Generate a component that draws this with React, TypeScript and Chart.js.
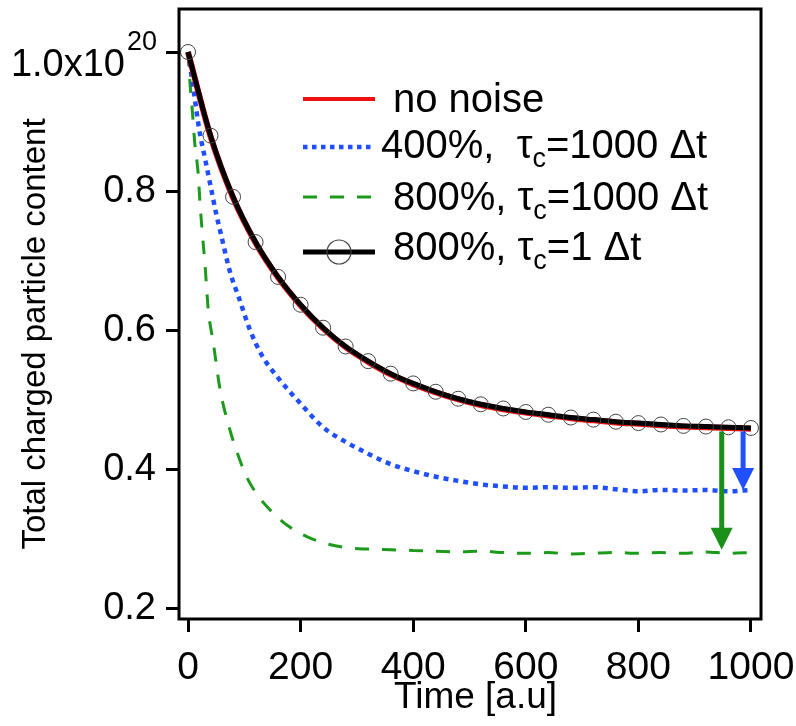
import React, { useEffect, useRef } from "react";
import { Chart, registerables } from "chart.js";

Chart.register(...registerables);

const FONT = '"Liberation Sans", Arial, Helvetica, sans-serif';

// Time samples of the smooth curves (circle markers every 40 a.u.)
const tauTimes = [0, 40, 80, 120, 160, 200, 240, 280, 320, 360, 400, 440, 480, 520, 560, 600, 640, 680, 720, 760, 800, 840, 880, 920, 960, 1000];
// 800%, tau_c = 1 dt (black with circles)
const tau1Values = [1.0, 0.880, 0.792, 0.727, 0.677, 0.637, 0.604, 0.577, 0.556, 0.538, 0.524, 0.512, 0.502, 0.494, 0.488, 0.483, 0.479, 0.475, 0.472, 0.469, 0.467, 0.465, 0.463, 0.462, 0.461, 0.460];
// no noise (red)
const noNoiseValues = [1.0, 0.879, 0.791, 0.726, 0.676, 0.636, 0.603, 0.576, 0.555, 0.537, 0.523, 0.511, 0.501, 0.493, 0.487, 0.482, 0.478, 0.474, 0.471, 0.468, 0.466, 0.464, 0.462, 0.461, 0.460, 0.459];

// 400%, tau_c = 1000 dt (blue dotted)
const blueTimes = [0, 10, 20, 30, 40, 50, 60, 75, 90, 110, 130, 160, 200, 240, 280, 320, 360, 400, 440, 480, 520, 560, 600, 640, 680, 720, 760, 800, 840, 880, 920, 960, 1000];
const blueValues = [1.0, 0.945, 0.888, 0.848, 0.808, 0.768, 0.733, 0.683, 0.648, 0.601, 0.566, 0.532, 0.495, 0.461, 0.440, 0.423, 0.408, 0.398, 0.390, 0.384, 0.379, 0.376, 0.374, 0.375, 0.374, 0.375, 0.372, 0.369, 0.371, 0.370, 0.371, 0.369, 0.371];

// 800%, tau_c = 1000 dt (green dashed)
const greenTimes = [0, 4, 8, 12, 18, 21, 25, 30, 36, 45, 57, 71, 85, 104, 125, 151, 180, 211, 245, 282, 320, 360, 400, 440, 480, 520, 560, 600, 640, 680, 720, 760, 800, 840, 880, 920, 960, 1000];
const greenValues = [1.0, 0.95, 0.912, 0.869, 0.826, 0.787, 0.744, 0.697, 0.630, 0.582, 0.515, 0.467, 0.430, 0.390, 0.362, 0.338, 0.318, 0.304, 0.294, 0.288, 0.286, 0.285, 0.284, 0.283, 0.282, 0.283, 0.281, 0.280, 0.281, 0.279, 0.280, 0.281, 0.280, 0.281, 0.280, 0.282, 0.280, 0.281];

const xTicks = [0, 200, 400, 600, 800, 1000];
const yTicks = [0.2, 0.4, 0.6, 0.8, 1.0];

// Arrows (time, start value, tip value)
const arrowTimes = [948, 986];
const arrowFrom = [0.455, 0.455];
const arrowTo = [0.285, 0.371];
const arrowColors = ["#199119", "#1f4fff"];

// Legend texts
const legendPrefix = ["no noise", "400%,  τ", "800%, τ", "800%, τ"];
const legendSub = ["", "c", "c", "c"];
const legendSuffix = ["", "=1000 Δt", "=1000 Δt", "=1 Δt"];

const RED = "#ee1111";
const BLUE = "#1f4fff";
const GREEN = "#1c9a1c";

const decorPlugin = {
  id: "decor",
  afterDatasetsDraw(chart: any) {
    const ctx = chart.ctx as CanvasRenderingContext2D;
    const { left, top } = chart.chartArea;
    const xs = chart.scales.x;
    const ys = chart.scales.y;
    ctx.save();
    // arrows
    for (let i = 0; i < arrowTimes.length; i++) {
      const x = xs.getPixelForValue(arrowTimes[i]);
      const y0 = ys.getPixelForValue(arrowFrom[i]);
      const y1 = ys.getPixelForValue(arrowTo[i]);
      ctx.strokeStyle = arrowColors[i];
      ctx.fillStyle = arrowColors[i];
      ctx.lineWidth = 5;
      ctx.setLineDash([]);
      ctx.beginPath();
      ctx.moveTo(x, y0);
      ctx.lineTo(x, y1 - 18);
      ctx.stroke();
      ctx.beginPath();
      ctx.moveTo(x - 11, y1 - 22);
      ctx.lineTo(x + 11, y1 - 22);
      ctx.lineTo(x, y1);
      ctx.closePath();
      ctx.fill();
    }
    // legend
    const lineY = [90, 138, 188, 243];
    const baseY = [103, 149, 201, 251];
    const x0 = left + 124;
    const x1 = left + 196;
    const textX = [left + 214, left + 202, left + 214, left + 214];
    const styles = [
      { c: RED, w: 4, d: [] as number[] },
      { c: BLUE, w: 4.5, d: [4.5, 4.5] },
      { c: GREEN, w: 3, d: [14, 13] },
      { c: "#000", w: 5, d: [] as number[] },
    ];
    for (let i = 0; i < 4; i++) {
      const y = top + lineY[i];
      const s = styles[i];
      ctx.strokeStyle = s.c;
      ctx.lineWidth = s.w;
      ctx.setLineDash(s.d);
      ctx.beginPath();
      ctx.moveTo(x0, y);
      ctx.lineTo(x1, y);
      ctx.stroke();
      ctx.setLineDash([]);
      if (i === 3) {
        ctx.strokeStyle = "#444";
        ctx.lineWidth = 1.2;
        ctx.beginPath();
        ctx.arc((x0 + x1) / 2, y, 12, 0, Math.PI * 2);
        ctx.stroke();
      }
      const base = top + baseY[i];
      ctx.fillStyle = "#000";
      ctx.textAlign = "left";
      ctx.textBaseline = "alphabetic";
      ctx.font = `40px ${FONT}`;
      let tx = textX[i];
      ctx.fillText(legendPrefix[i], tx, base);
      tx += ctx.measureText(legendPrefix[i]).width;
      if (legendSub[i]) {
        ctx.font = `27px ${FONT}`;
        ctx.fillText(legendSub[i], tx, base + 9);
        tx += ctx.measureText(legendSub[i]).width;
        ctx.font = `40px ${FONT}`;
        ctx.fillText(legendSuffix[i], tx, base);
      }
    }
    ctx.restore();
  },
  afterDraw(chart: any) {
    const ctx = chart.ctx as CanvasRenderingContext2D;
    const { left, top, right, bottom } = chart.chartArea;
    const ys = chart.scales.y;
    const xs = chart.scales.x;
    ctx.save();
    // frame
    ctx.strokeStyle = "#000";
    ctx.lineWidth = 3;
    ctx.setLineDash([]);
    ctx.strokeRect(left, top, right - left, bottom - top);
    // top y label with exponent
    const yTop = ys.getPixelForValue(1.0);
    ctx.fillStyle = "#000";
    ctx.textAlign = "right";
    ctx.textBaseline = "alphabetic";
    ctx.font = `27px ${FONT}`;
    const supW = ctx.measureText("20").width;
    ctx.fillText("20", left - 22, yTop - 2);
    ctx.font = `38px ${FONT}`;
    ctx.fillText("1.0x10", left - 22 - supW - 2, yTop + 24);
    // axis titles
    ctx.font = `33px ${FONT}`;
    ctx.textAlign = "center";
    ctx.save();
    ctx.translate(45, (top + bottom) / 2 + 20);
    ctx.rotate(-Math.PI / 2);
    ctx.fillText("Total charged particle content", 0, 0);
    ctx.restore();
    ctx.font = `37px ${FONT}`;
    ctx.fillText("Time [a.u]", (xs.getPixelForValue(0) + xs.getPixelForValue(1000)) / 2 + 6, 708);
    ctx.restore();
  },
};

export default function App() {
  const ref = useRef<HTMLCanvasElement | null>(null);
  useEffect(() => {
    const canvas = ref.current;
    if (!canvas) return;
    const chart = new Chart(canvas, {
      type: "line",
      data: {
        datasets: [
          {
            label: "800%, τc=1 Δt",
            data: tauTimes.map((t, i) => ({ x: t, y: tau1Values[i] })),
            borderColor: "#000",
            borderWidth: 5,
            pointRadius: 7.5,
            pointHoverRadius: 7.5,
            pointBorderColor: "#444",
            pointBorderWidth: 1,
            pointBackgroundColor: "rgba(0,0,0,0)",
            cubicInterpolationMode: "monotone",
            fill: false,
          },
          {
            label: "no noise",
            data: tauTimes.map((t, i) => ({ x: t, y: noNoiseValues[i] })),
            borderColor: RED,
            borderWidth: 6,
            pointRadius: 0,
            cubicInterpolationMode: "monotone",
            fill: false,
          },
          {
            label: "400%, τc=1000 Δt",
            data: blueTimes.map((t, i) => ({ x: t, y: blueValues[i] })),
            borderColor: BLUE,
            borderWidth: 4.5,
            borderDash: [5, 5],
            pointRadius: 0,
            cubicInterpolationMode: "monotone",
            fill: false,
          },
          {
            label: "800%, τc=1000 Δt",
            data: greenTimes.map((t, i) => ({ x: t, y: greenValues[i] })),
            borderColor: GREEN,
            borderWidth: 3,
            borderDash: [14, 13],
            pointRadius: 0,
            cubicInterpolationMode: "monotone",
            fill: false,
          },
        ],
      },
      options: {
        animation: false,
        responsive: false,
        devicePixelRatio: 1,
        layout: { padding: { top: 9, right: 35, left: 0, bottom: 0 } },
        plugins: { legend: { display: false }, tooltip: { enabled: false } },
        scales: {
          x: {
            type: "linear",
            min: -16,
            max: 1017.8,
            afterBuildTicks: (s: any) => {
              s.ticks = xTicks.map((v) => ({ value: v }));
            },
            afterFit: (s: any) => {
              s.height = 107;
              s.paddingLeft = 0;
              s.paddingRight = 0;
              s.paddingTop = 0;
              s.paddingBottom = 0;
            },
            grid: { drawOnChartArea: false, drawTicks: true, tickLength: 13, lineWidth: 3, color: "#000" },
            border: { display: false },
            ticks: {
              font: { family: FONT, size: 39 },
              color: "#000",
              padding: 13,
              maxRotation: 0,
              autoSkip: false,
              callback: (v: any) => String(v),
            },
          },
          y: {
            type: "linear",
            min: 0.1856,
            max: 1.0618,
            afterBuildTicks: (s: any) => {
              s.ticks = yTicks.map((v) => ({ value: v }));
            },
            afterFit: (s: any) => {
              s.width = 179;
              s.paddingLeft = 0;
              s.paddingRight = 0;
              s.paddingTop = 0;
              s.paddingBottom = 0;
            },
            grid: { drawOnChartArea: false, drawTicks: true, tickLength: 13, lineWidth: 3, color: "#000" },
            border: { display: false },
            ticks: {
              font: { family: FONT, size: 38 },
              color: "#000",
              padding: 10,
              autoSkip: false,
              callback: (v: any) => (Math.abs(v - 1.0) < 1e-9 ? "" : Number(v).toFixed(1)),
            },
          },
        },
      } as any,
      plugins: [decorPlugin],
    });
    return () => chart.destroy();
  }, []);
  return (
    <div style={{ position: "fixed", left: 0, top: 0, width: 796, height: 726, background: "#fff" }}>
      <canvas ref={ref} width={796} height={726} style={{ display: "block", width: 796, height: 726 }} />
    </div>
  );
}
